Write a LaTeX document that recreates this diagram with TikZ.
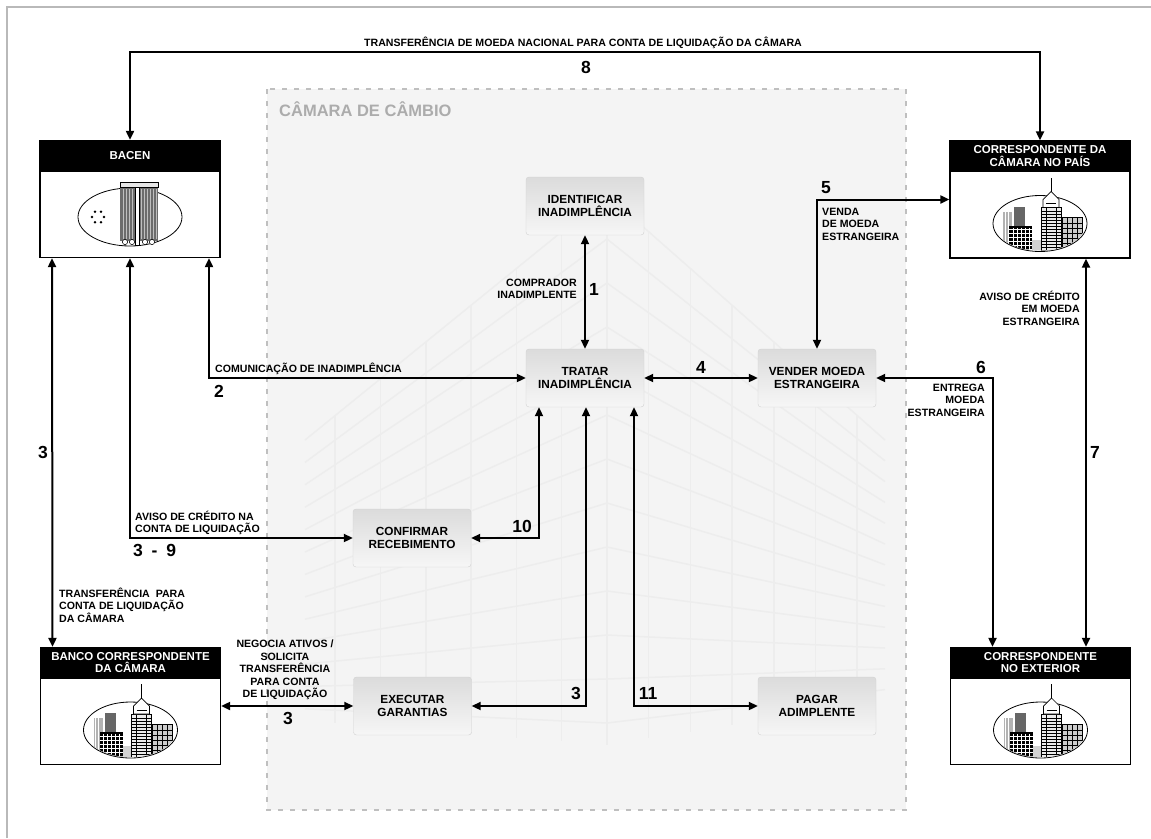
\documentclass[tikz,border=0pt]{standalone}
\usepackage{fontspec}
\setmainfont{Liberation Sans}
\usetikzlibrary{arrows.meta}
\colorlet{framecolor}{gray!55}
\definecolor{camarafill}{RGB}{244,244,244}
\colorlet{camaraborder}{gray!50}
\colorlet{titlecolor}{gray!65}
\colorlet{sketchcolor}{gray!14}
\newcommand{\lblfont}{\fontsize{10.6}{12.5}\selectfont\bfseries}
\newcommand{\boxfont}{\fontsize{11.8}{13}\selectfont\bfseries}
\newcommand{\headfont}{\fontsize{11.5}{12.5}\selectfont\bfseries}
\newcommand{\numfont}{\fontsize{17.5}{17.5}\selectfont\bfseries}

\tikzset{
        flow/.style={line width=2pt, {Triangle[length=9pt,width=8pt]}-{Triangle[length=9pt,width=8pt]}},
        proc/.style={rounded corners=3pt, draw=gray!35, top color=gray!28, bottom color=gray!7,
                minimum width=118pt, minimum height=58pt, inner sep=0pt, align=center, font=\boxfont},
        entity/.style={draw, line width=1.3pt, fill=white, minimum width=180pt, minimum height=117pt, inner sep=0pt,
                path picture={\fill[black] (path picture bounding box.north west) rectangle ([yshift=-31pt]path picture bounding box.east |- path picture bounding box.north);}},
        head/.style={text=white, font=\headfont, align=center, inner sep=0pt},
        lbl/.style={font=\lblfont, inner sep=0pt},
        num/.style={font=\numfont, inner sep=0pt},
        city/.pic={
                \draw[line width=0.8pt, fill=white] (0,0) ellipse (47pt and 28pt);
                \begin{scope}
                        \clip (0,0) ellipse (46pt and 27pt);
                        \fill[gray!35] (-47,16) rectangle (47,30);
                        \fill[gray!60] (-37,-12) rectangle (-28,30);
                        \draw[white, line width=0.6pt] (-35,-12) -- (-35,30) (-32,-12) -- (-32,30);
                        \fill[gray!80!black] (-26,-17) rectangle (-15,30);
                        \fill[black] (-31,2) rectangle (-8,30);
                        \foreach \gx in {-27,-23,...,-11} \draw[white, line width=0.7pt] (\gx,4) -- (\gx,30);
                        \foreach \gy in {6,10,...,26} \draw[white, line width=0.7pt] (-31,\gy) -- (-8,\gy);
                        \fill[gray!40] (22,-6) rectangle (42,30);
                        \draw[black, line width=0.7pt] (22,-6) rectangle (42,30);
                        \foreach \gx in {27,32,37} \draw[black, line width=0.7pt] (\gx,-6) -- (\gx,30);
                        \foreach \gy in {0,5,...,25} \draw[black, line width=0.7pt] (22,\gy) -- (42,\gy);
                        \draw[line width=0.8pt, fill=gray!15] (1,-16) rectangle (21,32);
                        \foreach \ty in {-12,-9,...,30} \draw[line width=0.5pt] (1,\ty) -- (21,\ty);
                        \draw[line width=0.7pt] (6,-16) -- (6,32) (16,-16) -- (16,32);
                \end{scope}
                \draw[line width=0.7pt, fill=white] (3,-16) -- (3,-24) -- (11,-32) -- (19,-24) -- (19,-16) -- cycle;
                \draw[line width=0.5pt] (6,-20) -- (16,-20);
                \draw[line width=1pt] (11,-32) -- (11,-46);
        },
        bacenlogo/.pic={
                \draw[line width=0.8pt, fill=white] (0,0) ellipse (52pt and 29pt);
                \fill[gray!85!black] (-10,-31) rectangle (28,24);
                \foreach \hx in {-7,-4,...,26} \draw[gray!50, line width=0.4pt] (\hx,-28) -- (\hx,22);
                \fill[white] (5,-35) rectangle (9,28);
                \draw[line width=0.5pt] (5,-35) rectangle (9,28);
                \draw[line width=0.5pt, fill=gray!20] (-10,-35) rectangle (28,-30);
                \foreach \cx in {-5,2,15,22} \draw[fill=white, line width=0.5pt] (\cx,25) circle (2.6pt);
                \foreach \a in {0,60,...,300} \fill ([shift={(-32,0)}]\a:6pt) circle (1.4pt);
        }
}

\begin{document}
\begin{tikzpicture}[x=1pt, y=-1pt]
        \useasboundingbox[fill=white] (0,0) rectangle (1151,838);
        % Background {{{
        \draw[framecolor, line width=1.5pt] (7,838) -- (7,7) -- (1151,7);
        \draw[camaraborder, line width=1.2pt, dash pattern=on 5pt off 7pt, fill=camarafill] (267,89) rectangle (906,810);
        % faint building behind the activities
        \begin{scope}[sketchcolor, line width=1.5pt]
                \foreach \t in {0,0.08,...,1.01} {
                        \draw (607,195+550*\t) -- (305,440+280*\t);
                        \draw (607,195+550*\t) -- (885,440+260*\t);
                }
                \foreach \wx in {0,0.15,...,1.01} {
                        \draw (607-302*\wx,195+245*\wx) -- (607-302*\wx,745-25*\wx);
                        \draw (607+278*\wx,195+245*\wx) -- (607+278*\wx,745-45*\wx);
                }
        \end{scope}
        \node[font=\fontsize{16.5}{17}\selectfont\bfseries, text=titlecolor, anchor=west, inner sep=0pt] (camaratitle) at (279,109) {CÂMARA DE CÂMBIO};
        % }}}
        % Participants {{{
        \node[entity] (bacen) at (130,199) {};
        \node[entity] (corrpais) at (1040,199.5) {};
        \node[entity] (banco) at (130.5,706) {};
        \node[entity] (corrext) at (1040.5,706) {};
        \node[head] (bacenhead) at ([yshift=-15.5pt]bacen.north) {BACEN};
        \node[head] (corrpaishead) at ([yshift=-15.5pt]corrpais.north) {CORRESPONDENTE DA\\CÂMARA NO PAÍS};
        \node[head] (bancohead) at ([yshift=-15.5pt]banco.north) {BANCO CORRESPONDENTE\\DA CÂMARA};
        \node[head] (correxthead) at ([yshift=-15.5pt]corrext.north) {CORRESPONDENTE\\NO EXTERIOR};
        \pic at ([yshift=-18pt]bacen.center) {bacenlogo};
        \pic at ([yshift=-24pt]corrpais.center) {city};
        \pic at ([yshift=-24pt]banco.center) {city};
        \pic at ([yshift=-24pt]corrext.center) {city};
        % }}}
        % Activities {{{
        \node[proc] (identificar) at (585,206) {IDENTIFICAR\\INADIMPLÊNCIA};
        \node[proc] (tratar) at (585,378) {TRATAR\\INADIMPLÊNCIA};
        \node[proc] (vender) at (817,378) {VENDER MOEDA\\ESTRANGEIRA};
        \node[proc] (confirmar) at (412,538) {CONFIRMAR\\RECEBIMENTO};
        \node[proc] (executar) at (412.5,706) {EXECUTAR\\GARANTIAS};
        \node[proc] (pagar) at (817,706) {PAGAR\\ADIMPLENTE};
        % }}}
        % Flows {{{
        \draw[flow] (bacen.north) |- (585,52) -| (corrpais.north); % 8
        \draw[flow] (identificar.south) -- (tratar.north); % 1
        \draw[flow] ([xshift=79pt]bacen.south) |- (tratar.west); % 2
        \draw[flow] ([xshift=-78pt]bacen.south) -- ([xshift=-78pt]banco.north); % 3
        \draw[flow] (bacen.south) |- (confirmar.west); % 3 - 9
        \draw[flow] (banco.east) -- (executar.west); % 3
        \draw[flow] ([xshift=1pt]tratar.south) |- (executar.east); % 3
        \draw[flow] (tratar.east) -- (vender.west); % 4
        \draw[flow] (vender.north) |- (corrpais.west); % 5
        \draw[flow] (vender.east) -| ([xshift=-48pt]corrext.north); % 6
        \draw[flow] ([xshift=46pt]corrpais.south) -- ([xshift=45.5pt]corrext.north); % 7
        \draw[flow] (confirmar.east) -| ([xshift=-46pt]tratar.south); % 10
        \draw[flow] ([xshift=49pt]tratar.south) |- (pagar.west); % 11
        % }}}
        % Labels {{{
        \node[lbl] (lbltransf) at (583,43) {TRANSFERÊNCIA DE MOEDA NACIONAL PARA CONTA DE LIQUIDAÇÃO DA CÂMARA};
        \node[num] (numoito) at (586,67) {8};
        \node[lbl, align=right, anchor=east] (lblcomprador) at (577,289) {COMPRADOR\\INADIMPLENTE};
        \node[num] (numum) at (594,289) {1};
        \node[lbl, anchor=west] (lblcomunic) at (215,369) {COMUNICAÇÃO DE INADIMPLÊNCIA};
        \node[num] (numdois) at (219,391) {2};
        \node[num] (numtresa) at (43,452) {3};
        \node[lbl, align=left, anchor=west] (lbltransfbanco) at (59,605) {TRANSFERÊNCIA~~PARA\\CONTA DE LIQUIDAÇÃO\\DA CÂMARA};
        \node[lbl, align=left, anchor=west] (lblaviso) at (135,523) {AVISO DE CRÉDITO NA\\CONTA DE LIQUIDAÇÃO};
        \node[num, anchor=west] (numtresnove) at (133,550) {3\enspace-\enspace9};
        \node[lbl, align=center] (lblnegocia) at (285,670) {NEGOCIA ATIVOS /\\SOLICITA\\TRANSFERÊNCIA\\PARA CONTA\\DE LIQUIDAÇÃO};
        \node[num] (numtresb) at (288,718) {3};
        \node[num] (numtresc) at (576,693) {3};
        \node[num] (numonze) at (648,693) {11};
        \node[num] (numdez) at (522,526) {10};
        \node[num] (numquatro) at (701,367) {4};
        \node[num] (numcinco) at (826,188) {5};
        \node[lbl, align=left, anchor=west] (lblvenda) at (822,224) {VENDA\\DE MOEDA\\ESTRANGEIRA};
        \node[num] (numseis) at (981,367) {6};
        \node[lbl, align=right, anchor=east] (lblentrega) at (985,400) {ENTREGA\\MOEDA\\ESTRANGEIRA};
        \node[lbl, align=right, anchor=east] (lblavisoext) at (1080,308) {AVISO DE CRÉDITO\\EM MOEDA\\ESTRANGEIRA};
        \node[num] (numsete) at (1095,452) {7};
        % }}}
\end{tikzpicture}
\end{document}
